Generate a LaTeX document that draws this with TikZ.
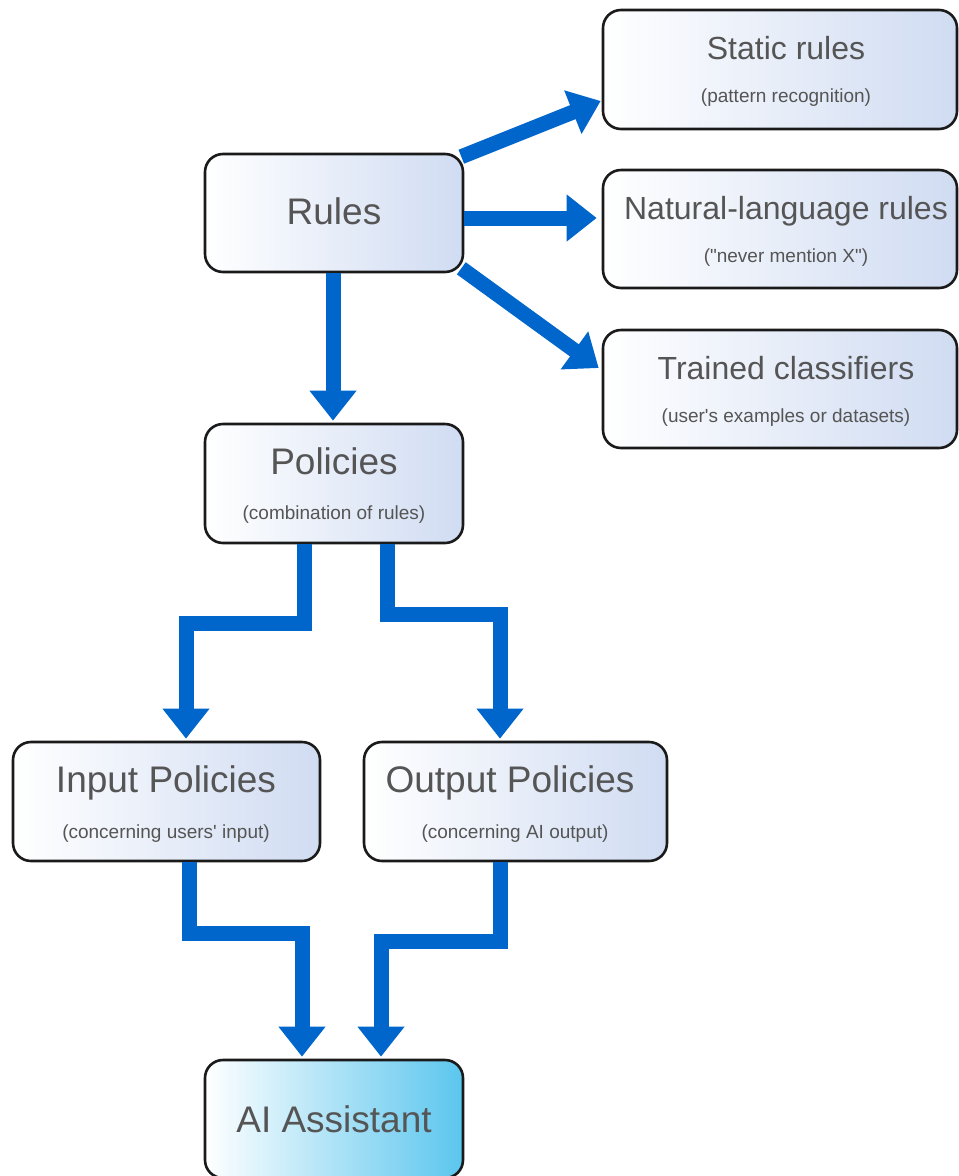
\documentclass[tikz,border=0pt]{standalone}
\usepackage{fontspec}
\setmainfont{Liberation Sans}[Ligatures=TeXOff]
\usetikzlibrary{arrows.meta,calc}
\definecolor{arrblue}{HTML}{0066CC}
\definecolor{boxblue}{HTML}{D0DCF2}
\definecolor{aiblue}{HTML}{5BC6EE}
\definecolor{txtgray}{HTML}{555555}
\definecolor{edge}{HTML}{1A1A1A}
\tikzset{
  box/.style={draw=edge, line width=2.6pt, rounded corners=18pt, left color=white, right color=boxblue, inner sep=0pt},
  aibox/.style={box, right color=aiblue},
  ttl/.style={anchor=base, text=txtgray, font=\fontsize{37}{40}\selectfont, inner sep=0pt},
  sttl/.style={anchor=base, text=txtgray, font=\fontsize{32}{35}\selectfont, inner sep=0pt},
  sub/.style={anchor=base, text=txtgray, font=\fontsize{19}{22}\selectfont, inner sep=0pt},
  arr/.style={draw=arrblue, line width=15pt, -{Triangle[width=45pt,length=30pt]}}
}
\begin{document}
\begin{tikzpicture}[x=1pt,y=-1pt]
\useasboundingbox (0,0) rectangle (959,1176);
% boxes
\node[box, minimum width=258pt, minimum height=118pt] (rules) at (334,213) {};
\node[box, minimum width=354pt, minimum height=119pt] (static) at (780,69.5) {};
\node[box, minimum width=354pt, minimum height=118pt] (natural) at (780,229) {};
\node[box, minimum width=354pt, minimum height=118pt] (trained) at (780,389) {};
\node[box, minimum width=258pt, minimum height=119pt] (policies) at (334,483.5) {};
\node[box, minimum width=307pt, minimum height=119pt] (input) at (166.5,801.5) {};
\node[box, minimum width=303pt, minimum height=119pt] (output) at (515.5,801.5) {};
\node[aibox, minimum width=258pt, minimum height=118pt] (ai) at (334,1119) {};
% texts
\node[ttl] (rules-t) at (334,224) {Rules};
\node[sttl] (static-t) at (786,59) {Static rules};
\node[sub] (static-s) at (786,102) {(pattern recognition)};
\node[sttl] (natural-t) at (786,219) {Natural-language rules};
\node[sub] (natural-s) at (786,262) {("never mention X")};
\node[sttl] (trained-t) at (786,379) {Trained classifiers};
\node[sub] (trained-s) at (786,422) {(user's examples or datasets)};
\node[ttl] (policies-t) at (334,474) {Policies};
\node[sub] (policies-s) at (334,519) {(combination of rules)};
\node[ttl] (input-t) at (166,792) {Input Policies};
\node[sub] (input-s) at (166,838) {(concerning users' input)};
\node[ttl] (output-t) at (510,792) {Output Policies};
\node[sub] (output-s) at (515,838) {(concerning AI output)};
\node[ttl] (ai-t) at (334,1132) {AI Assistant};
% connectors
\draw[arr] ([xshift=-3pt,yshift=-4pt]rules.north east) -- ([xshift=-1pt,yshift=-31.5pt]static.west);
\draw[arr] ([yshift=-5pt]rules.east) -- ([xshift=-5pt,yshift=11pt]natural.west);
\draw[arr] ([xshift=-3pt,yshift=5pt]rules.south east) -- ([xshift=-3pt,yshift=21pt]trained.west);
\draw[arr] ([xshift=-1pt]rules.south) -- ([xshift=-1pt,yshift=2pt]policies.north);
\draw[arr] ([xshift=-30pt]policies.south) -- ++(0,79) -| ([xshift=19.5pt,yshift=2pt]input.north);
\draw[arr] ([xshift=53pt]policies.south) -- ++(0,70) -| ([xshift=-15.5pt,yshift=2pt]output.north);
\draw[arr] ([xshift=22.5pt]input.south) -- ++(0,71) -| ([xshift=-32pt,yshift=2pt]ai.north);
\draw[arr] ([xshift=-15.5pt]output.south) -- ++(0,79) -| ([xshift=47pt,yshift=2pt]ai.north);
\end{tikzpicture}
\end{document}
